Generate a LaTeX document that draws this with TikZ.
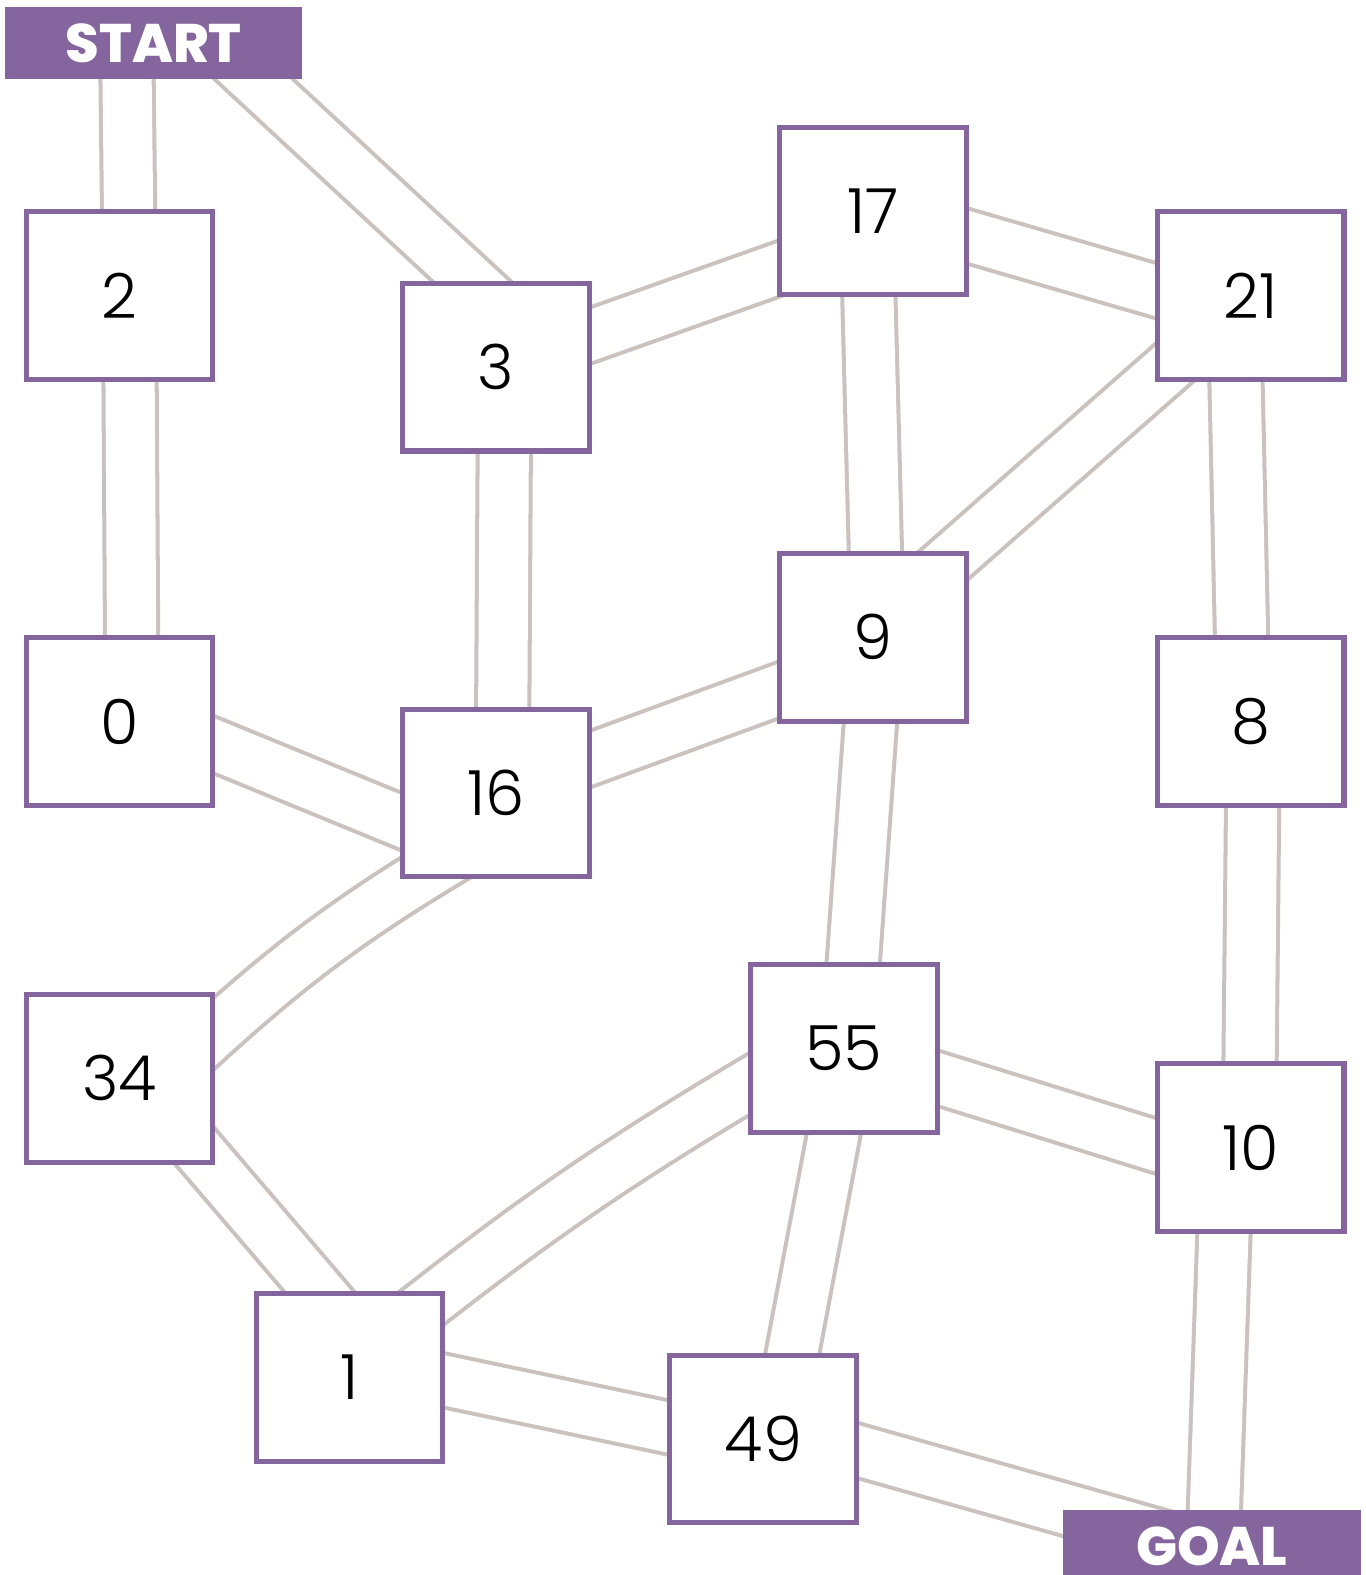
\documentclass[tikz,border=0pt]{standalone}
\usepackage{fontspec}
\IfFontExistsTF{Poppins Light}{\newfontfamily\numfont{Poppins Light}}{\newfontfamily\numfont{Poppins}}
\IfFontExistsTF{Poppins ExtraBold}{\newfontfamily\headfont{Poppins ExtraBold}}{\newfontfamily\headfont{Poppins Bold}}
\usetikzlibrary{calc,backgrounds}
\definecolor{mazepurple}{RGB}{133,101,158}
\definecolor{mazegray}{RGB}{201,194,190}
\begin{document}
\begin{tikzpicture}[x=1pt,y=-1pt,
  box/.style={draw=mazepurple, line width=5pt, fill=white, minimum width=186pt, minimum height=167pt, inner sep=0pt, font=\numfont\fontsize{62}{62}\selectfont},
  tag/.style={fill=mazepurple, text=white, minimum width=296pt, minimum height=72pt, inner sep=0pt, font=\headfont\fontsize{54}{54}\selectfont},
  road/.style={draw=mazegray, line width=4pt, double=white, double distance=49pt},
  ext/.style={shorten <=-40pt, shorten >=-40pt}]
\useasboundingbox (0,0) rectangle (1359,1568);

\node[tag] (start) at (153,43) {START};
\node[tag] (goal) at (1206.5,1539) {GOAL};

\node[box] (n2)  at (119,294.5)  {2};
\node[box] (n3)  at (494,365.5)  {3};
\node[box] (n17) at (869.5,210)  {17};
\node[box] (n21) at (1245,294.5) {21};
\node[box] (n0)  at (119,718.5)  {0};
\node[box] (n16) at (494,789.5)  {16};
\node[box] (n9)  at (869,634.5)  {9};
\node[box] (n8)  at (1245,718.5) {8};
\node[box] (n34) at (119,1073.5) {34};
\node[box] (n55) at (840,1043.5) {55};
\node[box] (n10) at (1245,1142.5) {10};
\node[box] (n1)  at (348,1371.5) {1};
\node[box] (n49) at (760,1432.5) {49};

\begin{pgfonlayer}{background}
\fill[white] (0,0) rectangle (1359,1568);
\draw[road,ext] ($(start.south)+(-26.5,0)$) -- ($(n2.north)+(9,0)$);
\draw[road,ext] ($(start.south)+(100,0)$) -- ($(n3.north)+(-25,0)$);
\draw[road,ext] ($(n2.south)+(10.5,0)$) -- ($(n0.north)+(12,0)$);
\draw[road,ext] ($(n3.south)+(8,0)$) -- ($(n16.north)+(6.5,0)$);
\draw[road,ext] ($(n3.east)+(0,-32)$) -- ($(n17.west)+(0,58)$);
\draw[road,ext] ($(n17.east)+(0,25.5)$) -- ($(n21.west)+(0,-5.5)$);
\draw[road,ext] ($(n17.south)+(-4.5,0)$) -- ($(n9.north)+(2.5,0)$);
\draw[road] (n21.center) -- ($(n9.center)+(0,-10)$);
\draw[road,ext] ($(n0.east)+(0,23.5)$) -- ($(n16.west)+(0,28)$);
\draw[road,ext] ($(n16.east)+(0,-34.5)$) -- ($(n9.west)+(0,53)$);
\draw[road,ext] ($(n21.south)+(-14.5,0)$) -- ($(n8.north)+(-9,0)$);
\draw[road,ext] ($(n9.south)+(-2.5,0)$) -- ($(n55.north)+(9.5,0)$);
\draw[road,ext] ($(n8.south)+(2,0)$) -- ($(n10.north)+(-0.5,0)$);
\draw[road] ($(n16.center)+(-31,56.5)$) to[bend right=6] ($(n34.center)+(68,-21)$);
\draw[road,ext] ($(n34.south east)+(-18,-15.5)$) -- ($(n1.north)+(-30.5,0)$);
\draw[road] ($(n55.center)+(-64,18)$) to[bend right=4] ($(n1.center)+(43,-46.5)$);
\draw[road,ext] ($(n55.east)+(0,30.5)$) -- ($(n10.west)+(0,-2)$);
\draw[road,ext] ($(n55.south)+(-10,0)$) -- ($(n49.north)+(29,0)$);
\draw[road,ext] ($(n1.east)+(0,3)$) -- ($(n49.west)+(0,-11.5)$);
\draw[road,ext] ($(n10.south)+(-26.5,0)$) -- ($(goal.north)+(2.5,0)$);
\draw[road,shorten <=-40pt] ($(n49.east)+(0,12)$) -- ($(goal.center)+(0,4.5)$);
\end{pgfonlayer}
\end{tikzpicture}
\end{document}
